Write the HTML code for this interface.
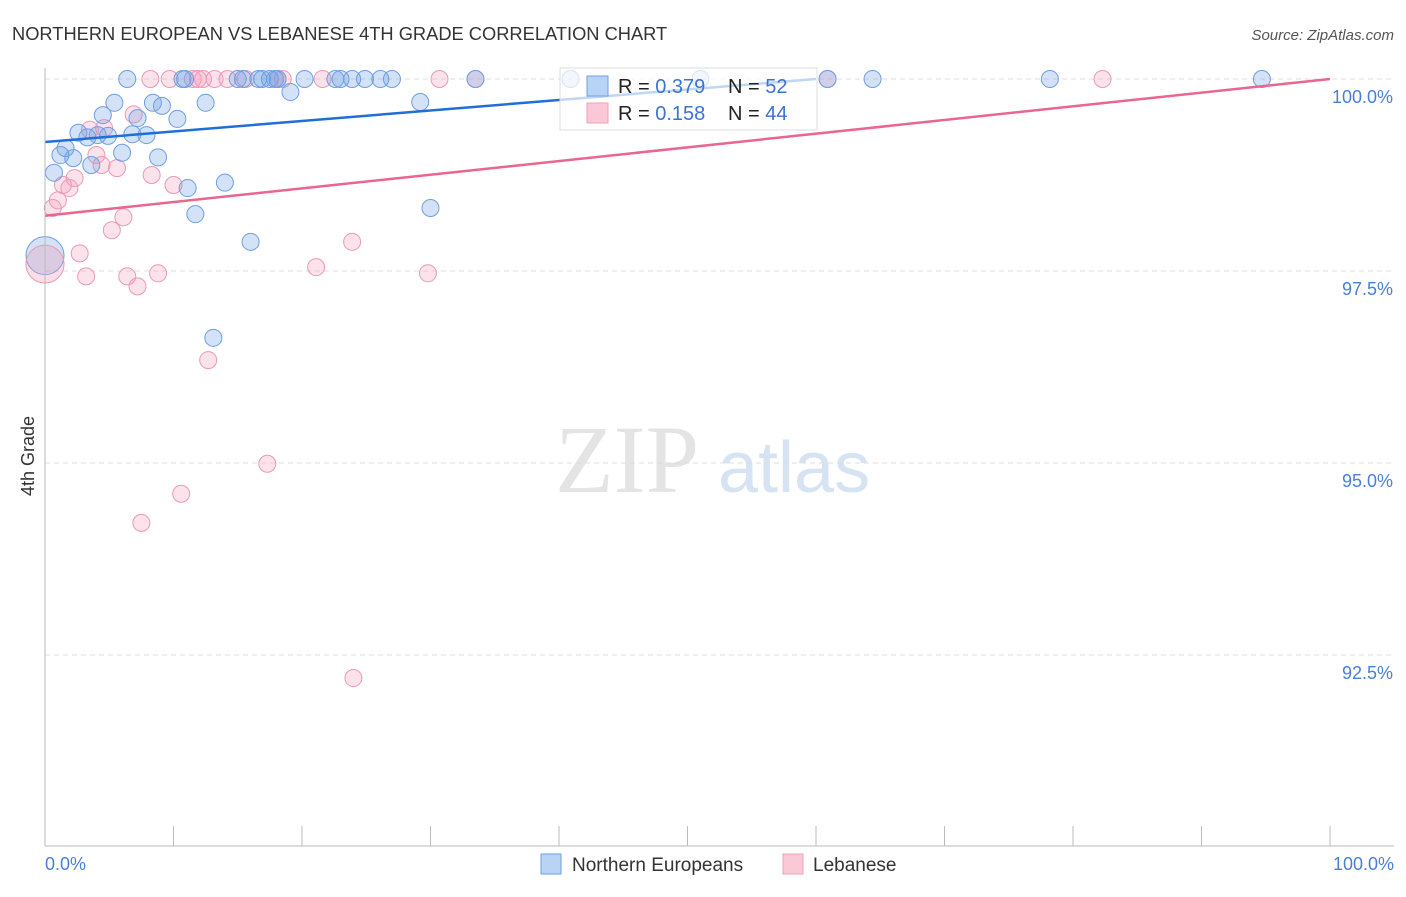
<!DOCTYPE html>
<html><head><meta charset="utf-8"><style>
body{margin:0;background:#fff;font-family:"Liberation Sans",sans-serif;}
#wrap{position:relative;width:1406px;height:892px;}
</style></head><body>
<div id="wrap">
<svg id="svg" width="1406" height="892" xmlns="http://www.w3.org/2000/svg">
<text x="12" y="40" font-size="18.3" fill="#333">NORTHERN EUROPEAN VS LEBANESE 4TH GRADE CORRELATION CHART</text>
<text x="1394" y="40" font-size="15" fill="#555" text-anchor="end" font-style="italic">Source: ZipAtlas.com</text>
<text x="34" y="456" font-size="18" fill="#333" text-anchor="middle" transform="rotate(-90 34 456)">4th Grade</text>
<text x="555" y="492" font-size="96" fill="#e4e4e4" font-family="Liberation Serif,serif">ZIP</text>
<text x="718" y="492" font-size="72" fill="#d6e3f3">atlas</text>
<g id="grid"></g><g id="pts"></g><g id="lines"></g>
<line x1="45" y1="68" x2="45" y2="846" stroke="#bbb"/>
<line x1="45" y1="846" x2="1394" y2="846" stroke="#bbb"/>
<text x="45" y="870" font-size="18" fill="#4a7fd6">0.0%</text>
<text x="1394" y="870" font-size="18" fill="#4a7fd6" text-anchor="end">100.0%</text>
<g>
<rect x="560" y="68" width="257" height="62" fill="#fff" fill-opacity="0.72" stroke="#ddd"/>
<rect x="587" y="76" width="21" height="20" fill="#b9d3f5" stroke="#6f9fe0"/>
<rect x="587" y="103" width="21" height="20" fill="#fbc8d7" stroke="#f0a0b9"/>
<text x="618" y="93" font-size="20" fill="#222">R = <tspan fill="#3b73d1">0.379</tspan></text>
<text x="728" y="93" font-size="20" fill="#222">N = <tspan fill="#3b73d1"> 52</tspan></text>
<text x="618" y="120" font-size="20" fill="#222">R =  <tspan fill="#3b73d1">0.158</tspan></text>
<text x="728" y="120" font-size="20" fill="#222">N = <tspan fill="#3b73d1"> 44</tspan></text>
</g>
<g>
<rect x="541" y="854" width="20" height="20" fill="#b9d3f5" stroke="#6f9fe0"/>
<text x="572" y="871" font-size="19" fill="#333">Northern Europeans</text>
<rect x="783" y="854" width="20" height="20" fill="#fbc8d7" stroke="#f0a0b9"/>
<text x="813" y="871" font-size="19" fill="#333">Lebanese</text>
</g>
</svg></div>
<script>
const yTicks=[100,97.5,95,92.5];
const yTickLabels=["100.0%","97.5%","95.0%","92.5%"];
const blueX=[6.4,10.7,10.9,15.0,15.4,16.6,16.9,17.5,17.9,18.1,20.2,22.6,23.0,23.9,24.9,26.1,27.0,33.5,40.9,51.0,60.9,64.4,78.2,94.7,19.1,5.4,8.4,12.5,29.2,9.1,4.5,7.2,10.3,2.6,3.3,4.1,4.9,6.8,7.9,1.6,1.2,2.2,3.6,6.0,8.8,0.7,11.1,14.0,11.7,30.0,16.0,13.1];
const blueY=[100,100,100,100,100,100,100,100,100,100,100,100,100,100,100,100,100,100,100,100,100,100,100,100,99.83,99.69,99.69,99.69,99.70,99.65,99.53,99.49,99.48,99.30,99.24,99.27,99.26,99.28,99.27,99.10,99.01,98.97,98.88,99.04,98.98,98.78,98.58,98.65,98.24,98.32,97.88,96.63];
const pinkX=[8.2,9.7,11.5,11.9,12.3,13.2,14.2,15.6,18.1,18.5,21.6,30.7,33.5,60.9,82.3,6.9,3.5,4.6,1.4,1.9,2.3,1.0,0.6,4.0,4.4,5.6,8.3,10.0,6.1,5.2,2.7,3.2,6.4,7.2,8.8,21.1,23.9,29.8,12.7,17.3,10.6,7.5,24.0];
const pinkY=[100,100,100,100,100,100,100,100,100,100,100,100,100,100,100,99.54,99.34,99.36,98.62,98.58,98.71,98.42,98.32,99.01,98.88,98.84,98.75,98.62,98.20,98.03,97.73,97.43,97.43,97.30,97.47,97.55,97.88,97.47,96.34,94.99,94.60,94.22,92.20];
const bigX=[0,0], bigY=[97.70,97.59];
const blueLine=[[0,99.18],[60.0,100]];
const pinkLine=[[0,98.22],[100,100]];
const NS="http://www.w3.org/2000/svg";
const sx=v=>45+v*12.85, sy=v=>79+(100-v)*76.8;
const grid=document.getElementById('grid'),pts=document.getElementById('pts'),lines=document.getElementById('lines'),svg=document.getElementById('svg');
function mk(t,a,p){const e=document.createElementNS(NS,t);for(const k in a)e.setAttribute(k,a[k]);p.appendChild(e);return e;}
yTicks.forEach((t,i)=>{
 const l=mk('line',{x1:45,x2:1394,y1:sy(t),y2:sy(t),stroke:'#ddd','stroke-dasharray':'5,4'},grid);
 
 
 const tx=mk('text',{x:1393,y:sy(t)+24,'font-size':18,fill:'#4a7fd6','text-anchor':'end'},grid);
 tx.textContent=yTickLabels[i];
 
 
});
for(let i=0;i<=10;i++){
 const l=mk('line',{x1:sx(i*10),x2:sx(i*10),y1:826,y2:846,stroke:'#bbb'},grid);
 
 
}
function dot(x,y,r,fill,stroke,name){
 const c=mk('circle',{cx:sx(x),cy:sy(y),r:r,fill:fill,stroke:stroke,'stroke-width':1},pts);
 
 
}
dot(bigX[0],bigY[0],19,'rgba(110,160,230,0.3)','#6f9fe0','northern-point-large');
dot(bigX[1],bigY[1],19,'rgba(240,150,180,0.3)','#eb9ab4','lebanese-point-large');
pinkX.forEach((x,i)=>dot(x,pinkY[i],8.5,'rgba(245,160,190,0.3)','#eb9ab4','lebanese-point'));
blueX.forEach((x,i)=>dot(x,blueY[i],8.5,'rgba(110,160,230,0.3)','#6f9fe0','northern-point'));
const bl=mk('line',{x1:sx(blueLine[0][0]),y1:sy(blueLine[0][1]),x2:sx(blueLine[1][0]),y2:sy(blueLine[1][1]),stroke:'#1f6fd6','stroke-width':2.5},lines);


const pl=mk('line',{x1:sx(pinkLine[0][0]),y1:sy(pinkLine[0][1]),x2:sx(pinkLine[1][0]),y2:sy(pinkLine[1][1]),stroke:'#e8668f','stroke-width':2.5},lines);


</script>
</body></html>
